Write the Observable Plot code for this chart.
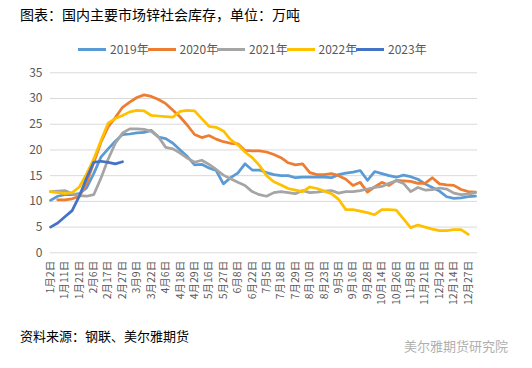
<!DOCTYPE html>
<html><head><meta charset="utf-8">
<script src="https://cdn.jsdelivr.net/npm/d3@7"></script>
<script src="https://cdn.jsdelivr.net/npm/@observablehq/plot@0.6"></script>
<style>
body{margin:0;background:#fff;}
#wrap{position:relative;width:532px;height:368px;font-family:"Noto Sans CJK SC","Noto Sans",sans-serif;overflow:hidden;}
#chart{position:absolute;left:0;top:0;}
#title{position:absolute;left:20px;top:4px;font-size:14px;color:#000;white-space:nowrap;}
.leg{position:absolute;top:41px;height:16px;font-size:12px;color:#595959;white-space:nowrap;line-height:16px;}
.leg span.sw{position:absolute;left:0;top:7px;width:28px;height:3px;}
.leg span.tx{position:absolute;left:32px;top:0;}
#caption{position:absolute;left:20px;top:326px;font-size:13px;color:#000;white-space:nowrap;}
#wm{position:absolute;left:404px;top:336px;font-size:13px;color:#b0b0b0;white-space:nowrap;}
</style>
</head><body>
<div id="wrap">
<div id="chart"></div>
<div id="title">图表：国内主要市场锌社会库存，单位：万吨</div>
<div id="legend"></div>
<div id="caption">资料来源：钢联、美尔雅期货</div>
<div id="wm">美尔雅期货研究院</div>
</div>
<script>
const years = ["2019年", "2020年", "2021年", "2022年", "2023年"];
const colors = ["#5B9BD5", "#ED7D31", "#A5A5A5", "#FFC000", "#4472C4"];
const tickLabels = ["1月2日","1月11日","1月21日","2月6日","2月17日","2月27日","3月9日","3月22日","4月6日","4月18日","4月29日","5月16日","5月27日","6月8日","6月22日","7月5日","7月18日","7月29日","8月10日","8月23日","9月5日","9月16日","9月28日","10月14日","10月26日","11月8日","11月21日","12月2日","12月14日","12月27日"];
const yTicks = [0, 5, 10, 15, 20, 25, 30, 35];

const y2019 = [10.2, 11.0, 11.3, 11.3, 11.5, 12.6, 15.4, 18.6, 20.2, 21.7,
  23.0, 23.1, 23.3, 23.4, 23.8, 22.5, 22.2, 21.3, 20.0, 18.7,
  17.1, 17.2, 16.5, 16.0, 13.4, 14.6, 15.5, 17.3, 16.1, 16.1,
  15.6, 15.2, 15.0, 15.0, 14.6, 14.7, 14.7, 14.7, 14.7, 14.6,
  15.2, 15.5, 15.7, 16.0, 14.1, 15.8, 15.4, 15.0, 14.7, 15.1,
  14.8, 14.3, 13.4, 12.7, 12.0, 10.9, 10.6, 10.7, 10.9, 11.0];
const y2020 = [null, 10.3, 10.3, 10.5, 11.0, 13.5, 17.5, 21.5, 24.5, 26.3,
  28.3, 29.3, 30.2, 30.7, 30.4, 29.8, 29.0, 27.7, 26.4, 24.8,
  23.0, 22.4, 22.8, 22.1, 21.6, 21.3, 21.2, 19.9, 19.8, 19.8,
  19.6, 19.1, 18.5, 17.5, 17.1, 17.3, 15.6, 15.2, 15.2, 15.4,
  15.0, 14.3, 13.1, 13.7, 11.8, 12.8, 13.7, 13.1, 14.1, 14.0,
  13.9, 13.5, 13.5, 14.6, 13.4, 13.2, 13.1, 12.3, 11.9, 11.8];
const y2021 = [11.9, 12.0, 12.1, 11.5, 11.1, 11.0, 11.3, 14.5, 18.2, 21.3,
  23.3, 24.1, 24.1, 24.0, 23.6, 22.5, 20.5, 20.2, 19.4, 18.4,
  17.6, 18.0, 17.2, 16.2, 15.1, 14.4, 13.7, 13.1, 11.9, 11.3,
  11.0, 11.7, 11.9, 11.7, 11.5, 12.1, 11.7, 11.8, 12.0, 12.1,
  11.6, 11.9, 11.9, 12.1, 12.4, 12.7, 12.9, 13.5, 14.0, 13.5,
  11.9, 12.7, 12.2, 12.3, 12.6, 12.4, 11.6, 11.3, 11.4, 11.7];
const y2022 = [11.9, 11.7, 11.5, 11.7, 12.8, 15.3, 18.2, 21.8, 25.2, 26.1,
  26.7, 27.4, 27.7, 27.6, 26.7, 26.6, 26.5, 26.4, 27.5, 27.7,
  27.6, 26.1, 24.6, 24.4, 23.7, 22.0, 21.0, 19.6, 18.5, 17.0,
  15.0, 13.8, 13.2, 12.5, 12.2, 11.9, 12.8, 12.5, 12.0, 11.5,
  10.4, 8.4, 8.4, 8.1, 7.8, 7.4, 8.4, 8.4, 8.3, 6.6,
  4.9, 5.4, 5.0, 4.6, 4.3, 4.3, 4.5, 4.5, 3.6, null];
const y2023 = [5.0, 5.8, 7.0, 8.2, 11.0, 14.5, 17.6, 17.8, 17.6, 17.3, 17.7];

const series = [y2019, y2020, y2021, y2022, y2023];
const rows = years.flatMap((yr, k) => series[k].map((v, i) => ({year: yr, i, v})).filter(d => d.v != null));
const xTicks = tickLabels.map((_, k) => k * 2);

const chart = Plot.plot({
  width: 532, height: 368,
  marginTop: 72.3, marginBottom: 115.7, marginLeft: 50, marginRight: 55,
  style: {fontFamily: '"Noto Sans CJK SC","Noto Sans",sans-serif', color: "#595959", background: "transparent"},
  x: {type: "linear", domain: [0, 59.28]},
  y: {domain: [0, 35]},
  color: {domain: years, range: colors},
  marks: [
    Plot.ruleY(yTicks, {stroke: "#d9d9d9", strokeWidth: 1}),
    Plot.axisY({ticks: yTicks, tickSize: 0, tickPadding: 8, fontSize: 12, label: null}),
    Plot.axisX({ticks: xTicks, tickFormat: i => tickLabels[i / 2], tickRotate: -90, tickSize: 0, tickPadding: 8, fontSize: 10.5, label: null}),
    Plot.line(rows, {x: "i", y: "v", z: "year", stroke: "year", strokeWidth: 2.75, strokeLinejoin: "round", strokeLinecap: "round"})
  ]
});
document.getElementById("chart").appendChild(chart);

const leg = document.getElementById("legend");
years.forEach((yr, k) => {
  const d = document.createElement("div");
  d.className = "leg";
  d.style.left = (78 + 69.5 * k) + "px";
  d.innerHTML = `<span class="sw" style="background:${colors[k]}"></span><span class="tx">${yr}</span>`;
  leg.appendChild(d);
});
</script>
</body></html>
